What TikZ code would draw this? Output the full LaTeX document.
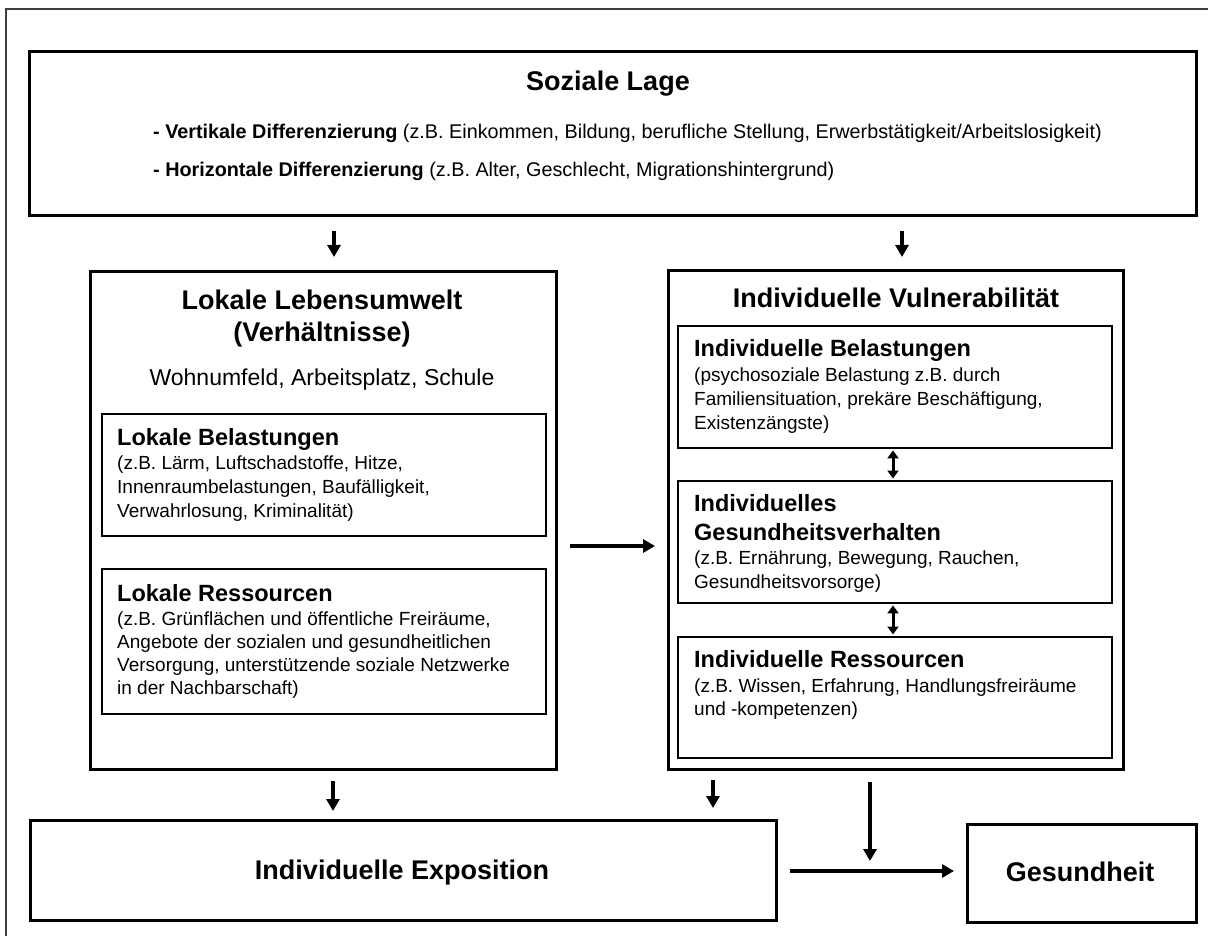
\documentclass[tikz,border=0pt]{standalone}
\usepackage{fontspec}
\setmainfont{Liberation Sans}
\usetikzlibrary{arrows.meta,calc}
\begin{document}
\begin{tikzpicture}[x=1pt,y=-1pt,
  bigbox/.style={draw=black, line width=2.8pt, inner sep=0pt, anchor=north west},
  smallbox/.style={draw=black, line width=1.9pt, inner sep=0pt, anchor=north west},
  arr/.style={line width=3.4pt, -{Triangle[length=12pt,width=13pt]}},
  dblarr/.style={line width=3pt, {Triangle[length=8pt,width=11pt]}-{Triangle[length=8pt,width=11pt]}},
  title/.style={font=\fontsize{27}{30}\selectfont\bfseries, inner sep=0pt, anchor=base},
  sub/.style={font=\fontsize{23}{26}\selectfont, inner sep=0pt, anchor=base},
  head/.style={font=\fontsize{23.5}{26}\selectfont\bfseries, inner sep=0pt, anchor=base west},
  detail/.style={font=\fontsize{19}{22}\selectfont, inner sep=0pt, anchor=base west},
  lagetext/.style={font=\fontsize{19.8}{22}\selectfont, inner sep=0pt, anchor=base west},
]
\useasboundingbox (0,0) rectangle (1208,936);
% outer frame (clipped at right and bottom)
\draw[line width=1.2pt, black!75] (6,940) -- (6,9) -- (1212,9);

% boxes
\node[bigbox, minimum width=1167pt, minimum height=164pt] (soz) at (28,50) {};
\node[bigbox, minimum width=466pt, minimum height=498pt] (leb) at (89,270) {};
\node[smallbox, minimum width=444pt, minimum height=122pt] (lbel) at (101,413) {};
\node[smallbox, minimum width=444pt, minimum height=145pt] (lres) at (101,568) {};
\node[bigbox, minimum width=455pt, minimum height=499pt] (vul) at (667,269) {};
\node[smallbox, minimum width=434pt, minimum height=122pt] (ibel) at (677,325) {};
\node[smallbox, minimum width=434pt, minimum height=122pt] (iges) at (677,480) {};
\node[smallbox, minimum width=434pt, minimum height=121pt] (ires) at (677,636) {};
\node[bigbox, minimum width=746pt, minimum height=100pt] (expo) at (29,819) {};
\node[bigbox, minimum width=229pt, minimum height=98pt] (ges) at (966,823) {};

% Soziale Lage
\node[title] (sozt) at (608,91) {Soziale Lage};
\node[lagetext] (soz1) at (153,139) {\textbf{- Vertikale Differenzierung} (z.B. Einkommen, Bildung, berufliche Stellung, Erwerbstätigkeit/Arbeitslosigkeit)};
\node[lagetext] (soz2) at (153,177) {\textbf{- Horizontale Differenzierung} (z.B. Alter, Geschlecht, Migrationshintergrund)};

% Lokale Lebensumwelt
\node[title] (lebt1) at (322,309) {Lokale Lebensumwelt};
\node[title] (lebt2) at (322,341) {(Verhältnisse)};
\node[sub] (lebt3) at (322,385) {Wohnumfeld, Arbeitsplatz, Schule};

\node[head] (lbelh) at (117,445) {Lokale Belastungen};
\node[detail] (lbel1) at (117,469) {(z.B. Lärm, Luftschadstoffe, Hitze,};
\node[detail] (lbel2) at (117,493) {Innenraumbelastungen, Baufälligkeit,};
\node[detail] (lbel3) at (117,517) {Verwahrlosung, Kriminalität)};

\node[head] (lresh) at (117,601) {Lokale Ressourcen};
\node[detail] (lres1) at (117,625) {(z.B. Grünflächen und öffentliche Freiräume,};
\node[detail] (lres2) at (117,648) {Angebote der sozialen und gesundheitlichen};
\node[detail] (lres3) at (117,671) {Versorgung, unterstützende soziale Netzwerke};
\node[detail] (lres4) at (117,694) {in der Nachbarschaft)};

% Individuelle Vulnerabilitaet
\node[title] (vult) at (896,307) {Individuelle Vulnerabilität};

\node[head] (ibelh) at (694,356) {Individuelle Belastungen};
\node[detail] (ibel1) at (694,381) {(psychosoziale Belastung z.B. durch};
\node[detail] (ibel2) at (694,405) {Familiensituation, prekäre Beschäftigung,};
\node[detail] (ibel3) at (694,429) {Existenzängste)};

\node[head] (igesh1) at (694,511) {Individuelles};
\node[head] (igesh2) at (694,540) {Gesundheitsverhalten};
\node[detail] (iges1) at (694,564) {(z.B. Ernährung, Bewegung, Rauchen,};
\node[detail] (iges2) at (694,588) {Gesundheitsvorsorge)};

\node[head] (iresh) at (694,667) {Individuelle Ressourcen};
\node[detail] (ires1) at (694,692) {(z.B. Wissen, Erfahrung, Handlungsfreiräume};
\node[detail] (ires2) at (694,715) {und -kompetenzen)};

% bottom texts
\node[title] (expot) at (402,879) {Individuelle Exposition};
\node[title] (gest) at (1080,881) {Gesundheit};

% connector coordinates
\coordinate (xa) at (334,0);
\coordinate (xb) at (902,0);
\coordinate (ya) at (0,546);
\coordinate (xm) at (893,0);
\coordinate (xc) at (333,0);
\coordinate (xd) at (713,0);
\coordinate (hm) at (870,871);

% arrows
\draw[arr, shorten <=14pt, shorten >=13pt] (soz.south -| xa) -- (leb.north -| xa);
\draw[arr, shorten <=14pt, shorten >=12pt] (soz.south -| xb) -- (vul.north -| xb);
\draw[arr, shorten <=12pt, shorten >=12pt] (leb.east |- ya) -- (vul.west |- ya);
\draw[dblarr, shorten <=1.5pt, shorten >=1.5pt] (ibel.south -| xm) -- (iges.north -| xm);
\draw[dblarr, shorten <=1.5pt, shorten >=1.5pt] (iges.south -| xm) -- (ires.north -| xm);
\draw[arr, shorten <=10pt, shorten >=8pt] (leb.south -| xc) -- (expo.north -| xc);
\draw[arr, shorten <=9pt, shorten >=11pt] (vul.south -| xd) -- (expo.north -| xd);
\draw[arr, shorten <=12pt, shorten >=12pt] (expo.east |- hm) -- (ges.west |- hm);
\draw[arr, shorten <=11pt, shorten >=10pt] (vul.south -| hm) -- (hm);
\end{tikzpicture}
\end{document}
